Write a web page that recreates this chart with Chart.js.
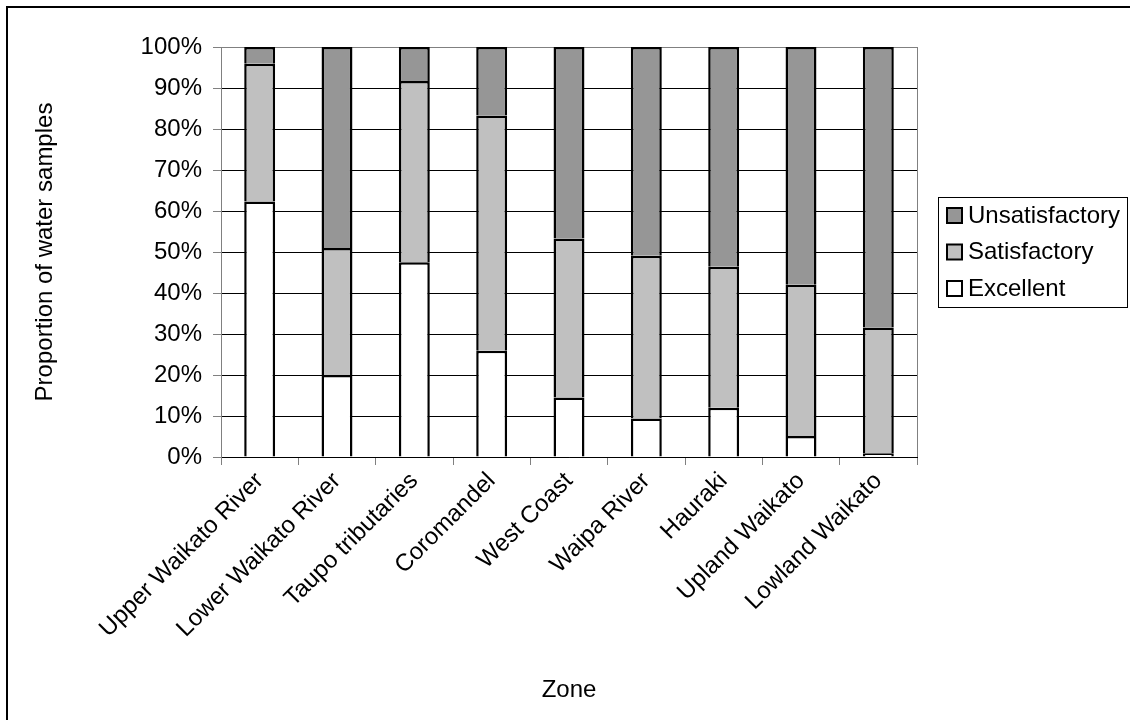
<!DOCTYPE html>
<html>
<head>
<meta charset="utf-8">
<title>Water samples by zone</title>
<script src="https://cdn.jsdelivr.net/npm/chart.js@4.4.1/dist/chart.umd.min.js"></script>
<style>
    html, body { margin: 0; padding: 0; background: #fff; }
    #wrap { width: 1130px; height: 720px; position: relative; }
</style>
</head>
<body>
<div id="wrap"><canvas id="zonas_chart"></canvas></div>
<script>
var zones = ["Upper Waikato River", "Lower Waikato River", "Taupo tributaries", "Coromandel",
    "West Coast", "Waipa River", "Hauraki", "Upland Waikato", "Lowland Waikato"];
var excellent = [62.3, 20.0, 47.5, 25.9, 14.5, 9.4, 12.0, 5.1, 0.9];
var satisfactory = [33.6, 31.0, 44.2, 57.4, 38.8, 39.7, 34.4, 36.9, 30.7];
var unsatisfactory = [4.1, 49.0, 8.3, 16.7, 46.7, 50.9, 53.6, 58.0, 68.4];
var yTicks = [0, 10, 20, 30, 40, 50, 60, 70, 80, 90, 100];

var fontName = "'Liberation Sans', Arial, sans-serif";
var fontSize = 24;

// frame, plot border and boxed legend
var extras = {
    id: 'extras',
    afterDraw: function(chart) {
        var ctx = chart.ctx;
        var area = chart.chartArea;
        ctx.save();
        ctx.strokeStyle = '#000';
        ctx.lineWidth = 2;
        ctx.strokeRect(7, 7, 1140, 720);

        ctx.strokeStyle = '#808080';
        ctx.lineWidth = 1;
        ctx.beginPath();
        ctx.moveTo(Math.round(area.right) + 0.5, area.top);
        ctx.lineTo(Math.round(area.right) + 0.5, area.bottom);
        ctx.stroke();

        var sets = chart.data.datasets;
        var boxX = area.right + 21, boxW = 189, rowH = 36.5;
        var boxH = 110;
        var boxY = (area.top + area.bottom) / 2 - boxH / 2;
        ctx.strokeStyle = '#000';
        ctx.lineWidth = 1;
        ctx.strokeRect(Math.round(boxX) + 0.5, Math.round(boxY) + 0.5, boxW, boxH);
        ctx.font = fontSize + 'px ' + fontName;
        ctx.textBaseline = 'middle';
        for (var i = sets.length - 1, row = 0; i >= 0; i--, row++) {
            var cy = boxY + 18 + row * rowH;
            ctx.fillStyle = sets[i].backgroundColor;
            ctx.fillRect(boxX + 9, cy - 7, 15, 15);
            ctx.lineWidth = 2;
            ctx.strokeRect(boxX + 9, cy - 7, 15, 15);
            ctx.fillStyle = '#000';
            ctx.fillText(sets[i].label, boxX + 30, cy + 1);
        }
        ctx.restore();
    }
};

function print_zonas() {
    new Chart(document.getElementById("zonas_chart"), {
        type: 'bar',
        data: {
            labels: zones,
            datasets: [
                { label: "Excellent", data: excellent, backgroundColor: "#ffffff" },
                { label: "Satisfactory", data: satisfactory, backgroundColor: "#c0c0c0" },
                { label: "Unsatisfactory", data: unsatisfactory, backgroundColor: "#969696" }
            ]
        },
        options: {
            responsive: true,
            maintainAspectRatio: false,
            animation: false,
            datasets: {
                bar: {
                    borderColor: '#000',
                    borderWidth: 2.5,
                    categoryPercentage: 1,
                    barPercentage: 0.4,
                    inflateAmount: 0
                }
            },
            layout: { padding: { left: 0, top: 47, right: 213, bottom: 0 } },
            plugins: {
                legend: { display: false },
                tooltip: { enabled: false }
            },
            scales: {
                x: {
                    stacked: true,
                    afterFit: function(scale) { scale.height = 263; },
                    grid: {
                        drawOnChartArea: false,
                        tickLength: 8,
                        tickColor: '#808080',
                        offset: true
                    },
                    border: { color: '#000', width: 1 },
                    ticks: {
                        color: '#000',
                        font: { family: fontName, size: fontSize },
                        minRotation: 45,
                        maxRotation: 45,
                        autoSkip: false,
                        padding: 2
                    },
                    title: {
                        display: true,
                        text: 'Zone',
                        color: '#000',
                        font: { family: fontName, size: fontSize },
                        padding: { top: 0, bottom: 15 }
                    }
                },
                y: {
                    stacked: true,
                    min: 0,
                    max: 100,
                    afterFit: function(scale) { scale.width = 221; },
                    afterBuildTicks: function(scale) {
                        scale.ticks = yTicks.map(function(v) { return { value: v }; });
                    },
                    grid: {
                        color: function(c) { return c.tick && c.tick.value === 100 ? '#808080' : '#000'; },
                        tickColor: '#808080',
                        tickLength: 8
                    },
                    border: { color: '#808080', width: 1 },
                    ticks: {
                        color: '#000',
                        font: { family: fontName, size: fontSize },
                        padding: 11,
                        callback: function(v) { return v + '%'; }
                    },
                    title: {
                        display: true,
                        text: 'Proportion of water samples',
                        color: '#000',
                        font: { family: fontName, size: fontSize },
                        padding: { top: 31, bottom: 0 }
                    }
                }
            }
        },
        plugins: [extras]
    });
}

print_zonas();
</script>
</body>
</html>
